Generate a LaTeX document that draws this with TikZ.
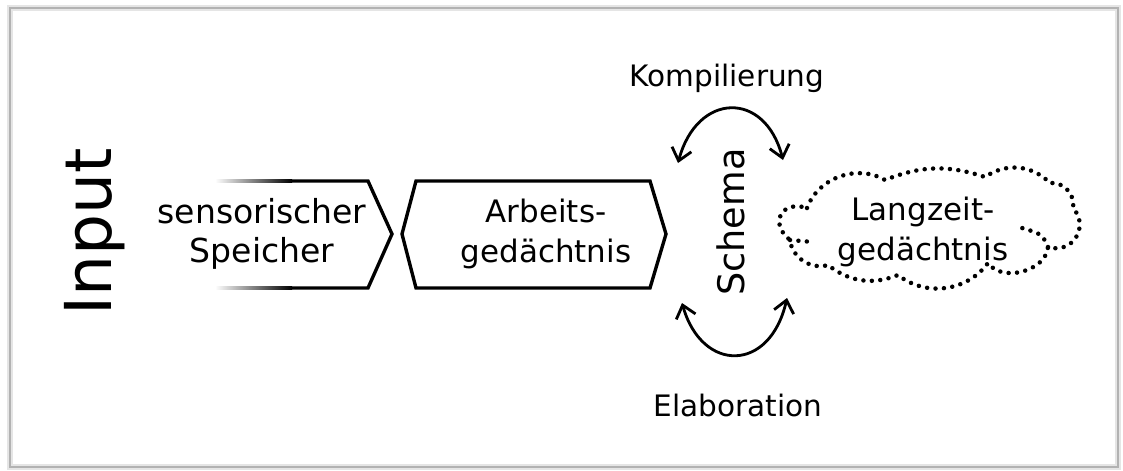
\documentclass[tikz,border=0pt]{standalone}
\usepackage{fontspec}
\setmainfont{DejaVu Sans}
\usetikzlibrary{arrows.meta}

\begin{document}
\begin{tikzpicture}[x=0.025cm, y=-0.025cm,
  boxtext/.style={font=\fontsize{22}{28}\selectfont, align=center, inner sep=0pt},
  sidetext/.style={font=\fontsize{21}{25}\selectfont, inner sep=0pt},
  outline/.style={line width=2.4pt, line join=miter},
  dots/.style={line width=3.2pt, line cap=round, dash pattern=on 0pt off 6pt},
  twoway/.style={{Straight Barb[length=3mm,width=5mm]}-{Straight Barb[length=3mm,width=5mm]}, line width=2pt}
]

\useasboundingbox (0,0) rectangle (1123,470);

% Frame with a soft edge
\draw[gray!20, line width=4pt] (10,8) rectangle (1118,467);
\draw[gray!60, line width=1pt] (10,8) rectangle (1118,467);

% Input
\node[rotate=90, font=\fontsize{46}{50}\selectfont, inner sep=0pt] (input) at (95,232) {Input};

% Sensory store
\node[boxtext, font=\fontsize{23.5}{28}\selectfont] (sens) at (262,234) {sensorischer\\Speicher};
\draw[outline] (292,181) -- (368,181) -- (392,234) -- (368,288) -- (292,288);
\shade[left color=white, right color=black] (215,179.3) rectangle (292,182.7);
\shade[left color=white, right color=black] (215,286.3) rectangle (292,289.7);

% Working memory
\node[boxtext] (arb) at (546,234) {Arbeits-\\gedächtnis};
\draw[outline] (402,234) -- (416,181) -- (650,181) -- (666,234) -- (650,288) -- (416,288) -- cycle;

% Schema and its two processes
\node[rotate=90, font=\fontsize{26}{30}\selectfont, inner sep=0pt] (schema) at (731,222) {Schema};
\node[sidetext] (komp) at (727,78) {Kompilierung};
\node[sidetext] (elab) at (738,405) {Elaboration};

\coordinate (kl) at (678,163);
\coordinate (kr) at (783,160);
\coordinate (el) at (682,303);
\coordinate (er) at (787,298);
\draw[twoway] (kl) .. controls (697,92) and (765,90) .. (kr);
\draw[twoway] (el) .. controls (702,373) and (770,373) .. (er);

% Long-term memory
\node[boxtext] (lzg) at (923,232) {Langzeit-\\gedächtnis};
\draw[dots] (807,208) to[bend left=50] (885,180) to[bend left=20] (985,177)
  to[bend left=40] (1050,183) to[bend left=55] (1073,208)
  to[bend left=75, looseness=1.4] (1048,247) to[bend left=70] (988,263)
  to[bend left=46] (898,275) to[bend left=30] (828,265)
  to[bend left=50] (790,240) to[bend left=80, looseness=1.9] (807,208);
\draw[dots] (790,240) -- (813,242);
\draw[dots] (1048,247) .. controls (1042,234) .. (1022,228);

\end{tikzpicture}
\end{document}
